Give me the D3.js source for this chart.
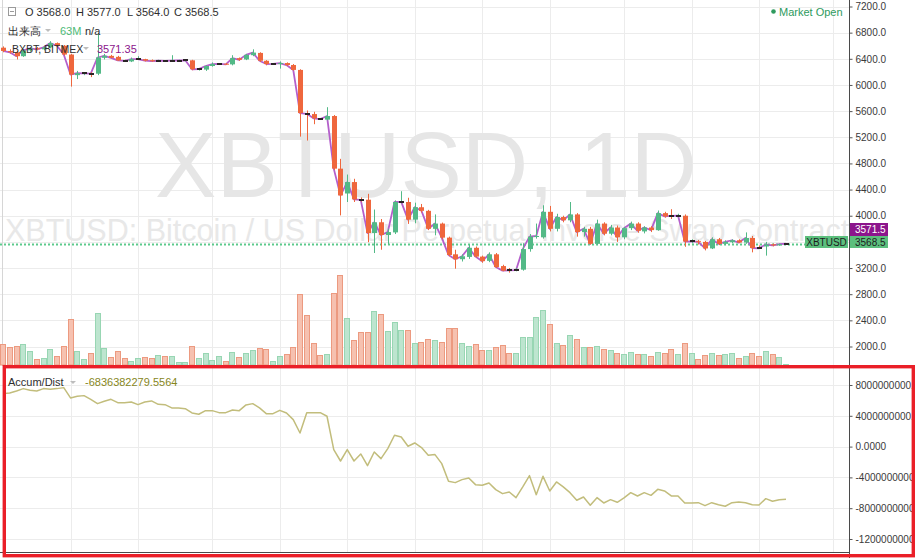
<!DOCTYPE html>
<html>
<head>
<meta charset="utf-8">
<script src="https://cdn.jsdelivr.net/npm/d3@7/dist/d3.min.js"></script>
<style>
  html, body { margin: 0; padding: 0; background: #ffffff; overflow: hidden; }
  svg { display: block; }
  text { font-family: "Liberation Sans", Arial, sans-serif; }
</style>
</head>
<body>
<svg id="chart" width="915" height="558"></svg>
<script>
// ---------------- DATA ----------------
const symbolTitle = "XBTUSD, 1D";
const symbolDesc = "XBTUSD: Bitcoin / US Dollar Perpetual Inverse Swap Contract";
const firstDay = "2018-10-01";
const lastDayExclusive = "2019-01-26";

const opens = [6570,6520,6500,6440,6530,6560,6545,6575,6640,6600,
 6465,6150,6173,6176,6172,6415,6445,6430,6372,6360,
 6393,6395,6378,6366,6370,6367,6371,6374,6377,6240,
 6235,6290,6318,6325,6315,6410,6390,6455,6490,6370,
 6318,6320,6335,6305,6230,5562,5555,5482,5470,5525,
 4720,4340,4515,4247,4245,3735,3900,3705,3745,4208,
 4210,3940,4130,4075,3800,3880,3665,3410,3335,3370,
 3510,3375,3310,3410,3230,3167,3163,3175,3490,3680,
 3670,4060,3800,3980,3930,4020,3750,3800,3570,3880,
 3725,3820,3670,3810,3880,3760,3820,3780,4040,4002,
 3998,4000,3603,3610,3600,3500,3640,3570,3595,3625,
 3590,3660,3507,3530,3562,3548,3568];
const highs = [6590,6545,6520,6545,6580,6580,6590,6670,6650,6610,
 6475,6215,6195,6195,6790,6475,6460,6445,6385,6420,
 6440,6400,6390,6385,6380,6455,6385,6390,6385,6260,
 6300,6345,6330,6335,6455,6420,6475,6545,6500,6380,
 6335,6360,6345,6320,6240,5610,5590,5495,5660,5540,
 4870,4630,4565,4280,4335,4095,3950,3800,4235,4375,
 4275,4200,4180,4090,4020,3895,3680,3480,3410,3560,
 3530,3390,3440,3430,3250,3200,3200,3580,3720,3880,
 4160,4150,4030,4000,4210,4040,3830,3830,3940,3900,
 3860,3850,3830,3910,3900,3840,3840,4080,4060,4100,
 4030,4020,3640,3630,3615,3670,3660,3625,3640,3640,
 3745,3690,3545,3600,3575,3575,3577];
const lows = [6500,6480,6390,6430,6510,6530,6530,6560,6580,6450,
 5975,6090,6150,6120,6150,6390,6410,6370,6355,6350,
 6385,6360,6355,6358,6360,6360,6362,6360,6225,6220,
 6215,6280,6305,6305,6300,6370,6380,6440,6350,6300,
 6305,6250,6290,6220,5210,5150,5400,5465,5460,4700,
 4005,4210,4210,4215,3595,3430,3480,3560,3720,4190,
 3875,3885,4050,3780,3700,3640,3380,3190,3300,3340,
 3360,3280,3290,3200,3150,3130,3150,3160,3450,3650,
 3650,3760,3760,3900,3900,3680,3680,3560,3550,3700,
 3700,3600,3640,3780,3740,3730,3750,3770,3970,3950,
 3980,3525,3580,3560,3470,3490,3550,3550,3580,3580,
 3570,3440,3495,3390,3530,3540,3564];
const closes = [6520,6500,6440,6530,6560,6545,6575,6640,6600,6465,
 6160,6180,6176,6172,6420,6445,6415,6375,6368,6395,
 6396,6372,6365,6370,6367,6371,6374,6377,6240,6243,
 6290,6320,6321,6315,6410,6385,6460,6495,6370,6320,
 6321,6335,6305,6230,5570,5558,5490,5478,5525,4720,
 4310,4515,4250,4243,3735,3900,3705,3750,4210,4212,
 3940,4130,4075,3800,3880,3665,3400,3335,3380,3510,
 3375,3305,3410,3215,3160,3163,3167,3490,3680,3690,
 4060,3800,3980,3930,4020,3750,3800,3570,3880,3725,
 3820,3670,3810,3880,3770,3820,3780,4040,3990,3998,
 4002,3605,3607,3600,3500,3640,3570,3600,3625,3590,
 3660,3505,3503,3560,3548,3565,3568.5];
// BXBT index (comparison line)
const bxbt = [6520,6500,6440,6530,6560,6545,6575,6640,6600,6465,
 6160,6180,6176,6172,6420,6445,6415,6375,6368,6395,
 6396,6372,6365,6370,6367,6371,6374,6377,6240,6243,
 6290,6320,6321,6315,6410,6385,6460,6495,6370,6320,
 6321,6335,6305,6230,5570,5558,5490,5478,5525,4720,
 4310,4515,4250,4243,3735,3900,3705,3750,4210,4212,
 3940,4130,4075,3800,3880,3665,3400,3335,3380,3510,
 3375,3305,3410,3215,3160,3163,3167,3490,3680,3690,
 4060,3800,3980,3930,4020,3750,3800,3570,3880,3725,
 3820,3670,3810,3880,3770,3820,3780,4040,3990,3998,
 4002,3605,3607,3600,3500,3640,3570,3600,3625,3590,
 3660,3505,3503,3560,3548,3565,3571.35];
// volume, millions
const volumesM = [2100,1770,1930,2100,1400,570,730,1570,870,1930,
 4570,1400,570,1230,5170,1670,770,1400,670,400,
 670,770,670,970,870,870,270,330,1870,670,
 1230,500,870,430,1300,770,1230,1500,1670,1570,
 430,870,1130,1770,7070,5000,2230,970,1130,7170,
 8970,4670,2500,3300,3300,5370,5100,3400,4270,3500,
 3500,2170,2330,2570,2500,2300,3670,3670,2170,1900,
 2070,1500,1500,1770,1970,1230,1230,2830,2830,4830,
 5500,4100,2170,1970,2970,2570,1800,1770,1930,1570,
 1500,1170,1100,1330,1070,1070,870,1330,1170,1570,
 1070,2170,1230,570,970,1170,970,1070,1170,670,
 900,1230,900,1400,1070,770,63];
// Accumulation / Distribution, billions
const accDistB = [6.88,6.97,7.23,7.53,7.31,7.23,7.53,7.44,7.53,7.66,
 6.32,6.53,6.62,6.14,5.58,5.88,6.14,5.71,5.71,5.80,
 5.45,5.80,5.93,5.49,5.45,5.02,5.02,4.93,4.37,4.20,
 4.67,4.67,4.41,4.41,4.76,4.67,5.41,5.58,5.02,4.28,
 4.28,4.71,4.37,3.50,1.77,4.41,4.41,4.41,3.94,-0.39,
 -1.87,-0.39,-1.87,-0.96,-2.47,-0.70,-1.56,-0.26,1.47,1.25,
 0.04,0.47,-0.13,-1.13,-1.04,-2.21,-4.51,-4.68,-4.29,-4.07,
 -4.94,-5.03,-4.72,-5.59,-6.11,-5.89,-6.63,-5.24,-3.77,-6.24,
 -3.86,-5.76,-4.59,-5.24,-5.98,-6.97,-6.54,-7.62,-6.63,-7.32,
 -6.89,-7.23,-6.67,-5.98,-6.41,-5.98,-6.33,-5.55,-5.76,-6.41,
 -6.41,-7.32,-7.32,-7.28,-7.67,-7.28,-7.54,-7.75,-7.28,-7.19,
 -7.28,-7.54,-7.58,-6.76,-7.10,-6.89,-6.8363822795564];

const priceTicks = [2000,2400,2800,3200,3600,4000,4400,4800,5200,5600,6000,6400,6800,7200]
  .filter(v => v !== 3600);
const adTicks = [8e9, 4e9, 0, -4e9, -8e9, -12e9];
const gridDates = ["2018-10-11","2018-10-21","2018-11-01","2018-11-11","2018-11-21","2018-12-01",
  "2018-12-11","2018-12-21","2019-01-01","2019-01-11","2019-01-21","2019-02-01"];

// ---------------- SETUP ----------------
const svg = d3.select("#chart");
const W = 915, H = 558;
const PR = 849;            // right edge of plotting area / axis line
const PANE1_B = 366;       // bottom of price pane
const PANE2_B = 552;       // bottom of A/D pane
const VOL_BASE = 365;
const parse = d3.utcParse("%Y-%m-%d");

const dates = d3.utcDays(parse(firstDay), parse(lastDayExclusive));
const bars = dates.map((d, i) => ({
  d, o: opens[i], h: highs[i], l: lows[i], c: closes[i],
  v: volumesM[i], ad: accDistB[i] * 1e9, bx: bxbt[i]
}));

const x = d3.scaleUtc().domain([dates[0], dates[dates.length - 1]]).range([3, 786]);
const y = d3.scaleLinear().domain([2000, 7200]).range([346.5, 6.5]);
const yv = d3.scaleLinear().domain([0, d3.max(volumesM)]).range([VOL_BASE, 275]);
const ya = d3.scaleLinear().domain([-12e9, 8e9]).range([539, 385]);

const upCol = "#53b987", downCol = "#ef673d", dojiCol = "#2a2326";
const gridCol = "#ececec";
const isDoji = b => Math.abs(b.c - b.o) < 8;

svg.append("rect").attr("width", W).attr("height", H).attr("fill", "#fff");

const defs = svg.append("defs");
defs.append("clipPath").attr("id", "clipP").append("rect")
  .attr("x", 0).attr("y", 0).attr("width", PR).attr("height", PANE1_B);
defs.append("clipPath").attr("id", "clipA").append("rect")
  .attr("x", 0).attr("y", PANE1_B).attr("width", PR).attr("height", PANE2_B - PANE1_B);

// ---------------- GRID ----------------
const grid = svg.append("g");
grid.selectAll(".hp").data(priceTicks.concat([3600])).join("line")
  .attr("x1", 0).attr("x2", PR)
  .attr("y1", d => Math.round(y(d)) + 0.5).attr("y2", d => Math.round(y(d)) + 0.5)
  .attr("stroke", gridCol);
grid.selectAll(".ha").data(adTicks).join("line")
  .attr("x1", 0).attr("x2", PR)
  .attr("y1", d => Math.round(ya(d)) + 0.5).attr("y2", d => Math.round(ya(d)) + 0.5)
  .attr("stroke", gridCol);
grid.selectAll(".v").data(gridDates.map(parse)).join("line")
  .attr("x1", d => Math.round(x(d)) + 0.5).attr("x2", d => Math.round(x(d)) + 0.5)
  .attr("y1", 0).attr("y2", PANE2_B)
  .attr("stroke", gridCol);
// left border line
svg.append("line").attr("x1", 2.5).attr("x2", 2.5).attr("y1", 0).attr("y2", PANE1_B)
  .attr("stroke", "#d6d6d6");

// ---------------- PRICE PANE ----------------
const plot = svg.append("g").attr("clip-path", "url(#clipP)");

// watermarks
plot.append("text").attr("x", 426).attr("y", 197).attr("text-anchor", "middle")
  .attr("font-size", 92).attr("fill", "#e6e6e6").text(symbolTitle);
plot.append("text").attr("x", 5).attr("y", 241)
  .attr("font-size", 30.5).attr("fill", "#e8e8e8").text(symbolDesc);

// volume bars
plot.append("g").selectAll("rect").data(bars).join("rect")
  .attr("x", b => Math.round(x(b.d)) - 2.5)
  .attr("width", 5)
  .attr("y", b => Math.round(yv(b.v)) + 0.5)
  .attr("height", b => Math.max(0, VOL_BASE - Math.round(yv(b.v)) - 0.5))
  .attr("fill", b => b.c >= b.o ? "#bde5cf" : "#f6c1b0")
  .attr("stroke", b => b.c >= b.o ? "#98d6b3" : "#ec9a80")
  .attr("stroke-width", 1);

// dotted last-price line
const lastBar = bars[bars.length - 1];
plot.append("line").attr("x1", 0).attr("x2", 805)
  .attr("y1", Math.round(y(lastBar.c)) + 0.5).attr("y2", Math.round(y(lastBar.c)) + 0.5)
  .attr("stroke", "#5cc98c").attr("stroke-width", 2).attr("stroke-dasharray", "2,2");

// BXBT comparison line
plot.append("path").datum(bars)
  .attr("d", d3.line().x(b => x(b.d)).y(b => y(b.bx)))
  .attr("fill", "none").attr("stroke", "#b45fcb").attr("stroke-width", 1.8)
  .attr("stroke-linejoin", "round");

// candles
const cg = plot.append("g").selectAll("g").data(bars).join("g");
cg.append("line")
  .attr("x1", b => Math.round(x(b.d)) + 0.5).attr("x2", b => Math.round(x(b.d)) + 0.5)
  .attr("y1", b => y(b.h)).attr("y2", b => y(b.l))
  .attr("stroke", b => b.c >= b.o ? upCol : downCol).attr("stroke-width", 1);
cg.append("rect")
  .attr("x", b => Math.round(x(b.d)) - 2)
  .attr("width", 5)
  .attr("y", b => isDoji(b) ? Math.round(y(b.c)) - 1 : y(Math.max(b.o, b.c)))
  .attr("height", b => isDoji(b) ? 2 : Math.max(1, Math.abs(y(b.o) - y(b.c))))
  .attr("fill", b => isDoji(b) ? dojiCol : (b.c >= b.o ? upCol : downCol));

// ---------------- A/D PANE ----------------
const plotA = svg.append("g").attr("clip-path", "url(#clipA)");
plotA.append("path").datum(bars)
  .attr("d", d3.line().x(b => x(b.d)).y(b => ya(b.ad)))
  .attr("fill", "none").attr("stroke", "#c2bd7c").attr("stroke-width", 1.5)
  .attr("stroke-linejoin", "round");

// bottom time-axis border
svg.append("line").attr("x1", 0).attr("x2", PR + 0.5).attr("y1", PANE2_B + 0.5).attr("y2", PANE2_B + 0.5)
  .attr("stroke", "#4a4a4a");

// ---------------- AXES ----------------
const axP = svg.append("g").attr("transform", `translate(${PR + 0.5},0)`)
  .call(d3.axisRight(y).tickValues(priceTicks).tickFormat(d => d.toFixed(1)).tickSize(3).tickPadding(3));
const axA = svg.append("g").attr("transform", `translate(${PR + 0.5},0)`)
  .call(d3.axisRight(ya).tickValues(adTicks).tickFormat(d => d.toFixed(4)).tickSize(3).tickPadding(3));
[axP, axA].forEach(a => {
  a.select(".domain").remove();
  a.selectAll("line").attr("stroke", "#555");
  a.selectAll("text").attr("font-size", 10).attr("fill", "#3a3a3a")
    .attr("font-family", '"Liberation Sans", Arial, sans-serif');
});
svg.append("line").attr("x1", PR + 0.5).attr("x2", PR + 0.5).attr("y1", 0).attr("y2", H)
  .attr("stroke", "#4a4a4a");

// price labels on axis
const lastBx = bxbt[bxbt.length - 1];
const labG = svg.append("g");
labG.append("rect").attr("x", 850).attr("y", 223).attr("width", 38).attr("height", 13).attr("fill", "#8c158c");
labG.append("text").attr("x", 855).attr("y", 233).attr("font-size", 10).attr("fill", "#fff")
  .text((Math.round(lastBx * 2) / 2).toFixed(1));
labG.append("rect").attr("x", 850).attr("y", 236).attr("width", 38).attr("height", 12).attr("fill", "#5cbf7d");
labG.append("text").attr("x", 855).attr("y", 245.5).attr("font-size", 10).attr("fill", "#1d1d1d")
  .text(lastBar.c.toFixed(1));
labG.append("rect").attr("x", 805).attr("y", 236).attr("width", 43).attr("height", 12).attr("fill", "#5cbf7d");
labG.append("text").attr("x", 826.5).attr("y", 245.5).attr("text-anchor", "middle").attr("font-size", 10)
  .attr("fill", "#1d1d1d").text("XBTUSD");

// ---------------- LEGENDS ----------------
const tri = (g, x0, y0) => g.append("path")
  .attr("d", `M${x0},${y0} h6 l-3,3 z`).attr("fill", "#bdbdbd");

const lg = svg.append("g").attr("font-size", 11);
// collapse icon
lg.append("rect").attr("x", 8.5).attr("y", 7.5).attr("width", 7).attr("height", 8)
  .attr("fill", "none").attr("stroke", "#9a9a9a");
lg.append("line").attr("x1", 10).attr("x2", 14).attr("y1", 11.5).attr("y2", 11.5).attr("stroke", "#9a9a9a");
const ohlc = [["O", lastBar.o, 25], ["H", lastBar.h, 76], ["L", lastBar.l, 127], ["C", lastBar.c, 174]];
ohlc.forEach(([k, v, px]) => {
  lg.append("text").attr("x", px).attr("y", 16).attr("fill", "#2e2e2e").text(`${k} ${v.toFixed(1)}`);
});
lg.append("text").attr("x", 8).attr("y", 35).attr("fill", "#2e2e2e")
  .attr("font-family", '"Noto Sans CJK JP", "Noto Sans CJK SC", sans-serif').attr("font-size", 11).text("出来高");
tri(lg, 45, 29);
lg.append("text").attr("x", 60).attr("y", 35).attr("fill", "#4cba76").text(`${lastBar.v}M`);
lg.append("text").attr("x", 85).attr("y", 35).attr("fill", "#2e2e2e").text("n/a");
lg.append("text").attr("x", 12).attr("y", 52.5).attr("fill", "#2e2e2e").attr("font-size", 10.5).text("BXBT, BITMEX");
tri(lg, 83, 47);
lg.append("text").attr("x", 97).attr("y", 53).attr("fill", "#8c158c").text(lastBx.toFixed(2));

// market open
svg.append("circle").attr("cx", 773.5).attr("cy", 11.5).attr("r", 2.3).attr("fill", "#2e9a5e");
svg.append("text").attr("x", 779).attr("y", 15.5).attr("font-size", 11).attr("fill", "#2e9a5e").text("Market Open");

// A/D legend
svg.append("text").attr("x", 8).attr("y", 386).attr("font-size", 11).attr("fill", "#2e2e2e").text("Accum/Dist");
tri(svg, 70, 381);
svg.append("text").attr("x", 85).attr("y", 386).attr("font-size", 11).attr("fill", "#86861c")
  .text(lastBar.ad.toFixed(4));

// highlight frame around A/D pane
svg.append("rect").attr("x", 4.3).attr("y", 366.7).attr("width", 909).attr("height", 189)
  .attr("fill", "none").attr("stroke", "#ea1f28").attr("stroke-width", 3.4);
</script>
</body>
</html>
